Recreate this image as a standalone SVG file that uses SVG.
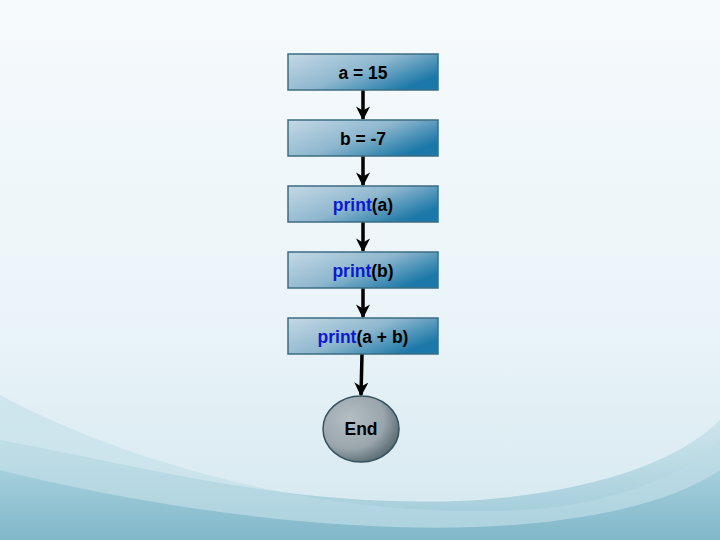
<svg xmlns="http://www.w3.org/2000/svg" width="720" height="540" viewBox="0 0 720 540">
<defs>
<linearGradient id="bg" x1="0" y1="0" x2="0" y2="1">
<stop offset="0" stop-color="#f6fafc"/>
<stop offset="0.6" stop-color="#eaf4f8"/>
<stop offset="1" stop-color="#d4e8ef"/>
</linearGradient>
<linearGradient id="wave1" x1="0" y1="0" x2="0" y2="1">
<stop offset="0" stop-color="#c8e2ea"/>
<stop offset="1" stop-color="#8cc0d0"/>
</linearGradient>
<linearGradient id="wave2" x1="0" y1="0" x2="0" y2="1">
<stop offset="0" stop-color="#9ccad8"/>
<stop offset="1" stop-color="#6eacc0"/>
</linearGradient>
<linearGradient id="box" x1="0" y1="0" x2="1" y2="0.6">
<stop offset="0" stop-color="#c4d9e6"/>
<stop offset="0.55" stop-color="#8eb7ce"/>
<stop offset="1" stop-color="#1c78a8"/>
</linearGradient>
<radialGradient id="endg" cx="0.35" cy="0.35" r="0.75">
<stop offset="0" stop-color="#b4bec4"/>
<stop offset="0.6" stop-color="#9aa6ac"/>
<stop offset="1" stop-color="#4e6068"/>
</radialGradient>
<marker id="ah" viewBox="0 0 10 10" refX="9" refY="5" markerWidth="4" markerHeight="4" orient="auto" markerUnits="strokeWidth">
<path d="M0,0 L10,5 L0,10 L3,5 z" fill="#000"/>
</marker>
<style>
.box{fill:url(#box);stroke:#3c6c82;stroke-width:1.5}
.t{font-family:"Liberation Sans",Arial,sans-serif;font-weight:bold;font-size:17.5px;text-anchor:middle;fill:#000}
.k{fill:#0a1ad0}
.c{stroke:#000;stroke-width:3.5;fill:none;marker-end:url(#ah)}
</style>
</defs>
<rect width="720" height="540" fill="url(#bg)"/>
<path d="M0,440 C160,470 300,510 480,500 C600,490 680,460 720,420 L720,540 L0,540 Z" fill="url(#wave1)" opacity="0.8"/>
<path d="M0,395 C120,460 320,520 520,510 C620,505 690,470 720,440 L720,540 L0,540 Z" fill="#bcdce6" opacity="0.5"/>
<path d="M0,470 C200,520 420,540 560,520 C640,510 690,490 720,470 L720,540 L0,540 Z" fill="url(#wave2)" opacity="0.7"/>
<g id="connectors">
<line class="c" x1="363" y1="90" x2="363" y2="119"/>
<line class="c" x1="363" y1="156" x2="363" y2="185"/>
<line class="c" x1="363" y1="222" x2="363" y2="251"/>
<line class="c" x1="363" y1="288" x2="363" y2="317"/>
<line class="c" x1="362" y1="354" x2="361" y2="395"/>
</g>
<g id="n1"><rect class="box" x="288" y="54" width="150" height="36"/><text class="t" x="363" y="79">a = 15</text></g>
<g id="n2"><rect class="box" x="288" y="120" width="150" height="36"/><text class="t" x="363" y="145">b = -7</text></g>
<g id="n3"><rect class="box" x="288" y="186" width="150" height="36"/><text class="t" x="363" y="211"><tspan class="k">print</tspan>(a)</text></g>
<g id="n4"><rect class="box" x="288" y="252" width="150" height="36"/><text class="t" x="363" y="277"><tspan class="k">print</tspan>(b)</text></g>
<g id="n5"><rect class="box" x="288" y="318" width="150" height="36"/><text class="t" x="363" y="343"><tspan class="k">print</tspan>(a + b)</text></g>
<g id="end"><ellipse cx="361" cy="429" rx="38" ry="33" fill="url(#endg)" stroke="#34525e" stroke-width="1.5"/><text class="t" x="361" y="435">End</text></g>
</svg>
